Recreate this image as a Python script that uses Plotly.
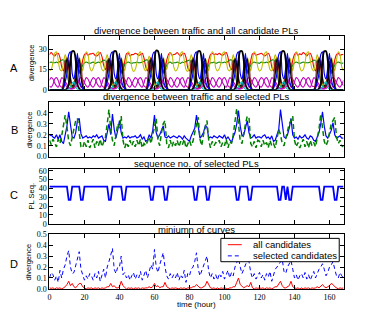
import plotly.graph_objects as go

# ---------------- data ----------------
hours = list(range(0, 169))
x_ticks = [0, 20, 40, 60, 80, 100, 120, 140, 160]

# Panel A: divergence between traffic and all candidate PLs (hourly)
a_red = [
 26,27.5,26,25,26.5,27,24,17,14,20,24,16,6,3,5,12,22,18,15,22,26,27,25.5,26.5,
 26.5,27,25.5,25,26,27.5,24.5,18,15,21,23,15,5,3,6,13,21,19,14,21,26.5,27,25,26,
 26,27,26.5,25.5,26,27,23.5,17,14,20,24,17,7,3,5,12,22,18,16,22,26,27.5,25.5,26,
 26.5,27.5,26,25,26.5,27,24,16.5,14,19,24,16,6,4,5,11,21,18,15,22,26,27,26,26.5,
 26,27,26,25.5,26.5,27.5,24,17.5,15,20,23,16,6,3,5,12,22,19,15,21.5,26.5,27,25.5,26,
 26.5,27,26,25,26,27,24.5,17,14,21,24,15,6,3,6,12,22,18,15,22,26,27.5,25.5,26.5,
 26,27.5,26.5,25,26.5,27,24,17,14,20,24,16,5,3,5,13,21,18,15,22,26,27,25.5,26,
 26]
a_green = [
 20,20.5,20,20,20.5,20,21,22,22,20,12,6,3,2,4,10,18,21,16,18,20,20.5,20,19.5,
 20,20.5,19.5,20,20.5,20,21,22,21.5,20,13,6,3,2,4,10,17,21,16,18.5,20,20.5,20,19.5,
 20,20,20.5,20,20,20.5,21,22,22,19,12,7,3,2,4,11,18,21,15,18,20,20.5,19.5,20,
 20,20.5,20,19.5,20.5,20,21,21.5,22,20,12,6,3,2,5,10,18,20,16,18,20,20,20.5,19.5,
 20,20.5,20,20,20.5,20,21,22,22,20,12,6,3,2,4,10,18,21,16,18,20,20.5,20,20,
 19.5,20.5,20,20,20.5,20,21,22,22,20.5,12,6,3,2,4,10,18,21,16,18,20,20.5,20,19.5,
 20,20.5,20,20,20,20.5,21,22,21.5,20,12,6,3,2,4,10,18,21,16,18,20,20.5,20,19.5,
 20]
a_yellow = [
 14,15,20,27,28,22,15,14,20,26,20,8,4,2,3,8,16,24,20,14,22,28,26,17,
 14,16,21,27,28,21,15,14,21,26,19,8,4,2,3,8,17,24,19,14,22,28,26,17,
 13.5,15,20,26.5,28,22,16,14,20,25,20,9,4,2,3,8,16,24,20,15,22,27.5,26,17,
 14,15,20,27,28,22,15,13.5,20,26,20,8,4,2,3,7,16,23,20,14,23,28,26,16,
 14,15.5,20,27,28,22,15,14,19,26,20,8,4,2,3,8,16,24,20,14,22,28,25.5,17,
 14,15,21,27,28,21,15,14,20,26,21,8,4,2,3,8,16,24,21,14,22,28,26,17,
 14,15,20,27,28,22,15.5,14,20,26,20,8,4,2,3,8,16,24,20,14,22,28,26,17,
 14]
a_magenta1 = [
 3,2,4,8,9,7,3,2,3,6,4,2,1,1,2,4,6,5,2,3,6,9,8,5,
 3,2,4,8,9,7,3,2,3,6,4,2,1,1,2,4,6,5,2,3,6,9,8,5,
 3,2,4.5,8,9,7,3,2,3,6,4,2,1,1,2,4,6,5,2,3,6,9,8,5,
 3,2,4,8,9,6.5,3,2,3,6,4,2,1,1,2,4,6,5,2,3,6,9,8,5,
 3,2,4,8,9,7,3,2,3,6,4,2,1,1,2,4,6,5,2,3,6.5,9,8,5,
 3,2,4,8,9,7,3,2,3,6,4,2,1,1,2,4,6,5,2,3,6,9,8,5,
 3,2,4,8,9,7,3,2.5,3,6,4,2,1,1,2,4,6,5,2,3,6,9,8,5,
 3]
a_magenta2 = [
 7,9,8,5,3,2,5,9,8,4,2,1,0.5,0.5,1,2,4,8,9,8,5,3,2,4,
 7,9,8,5,3,2,5,9,8,4,2,1,0.5,0.5,1,2,4,8,9,8,5,3,2,4,
 7,9,8,5,3,2,5,9,8,4,2,1,0.5,0.5,1,2,4,8,9,8,5,3,2,4,
 7,9,8,5,3,2,5,9,8,4,2,1,0.5,0.5,1,2,4,8,9,8,5,3,2,4,
 7,9,8,5,3,2,5,9,8,4,2,1,0.5,0.5,1,2,4,8,9,8,5,3,2,4,
 7,9,8,5,3,2,5,9,8,4,2,1,0.5,0.5,1,2,4,8,9,8,5,3,2,4,
 7,9,8,5,3,2,5,9,8,4,2,1,0.5,0.5,1,2,4,8,9,8,5,3,2,4,
 7]
a_black1 = [
 0,0,0,0,0,0,0,0,0,0,1,4,22,28.5,28.5,22,4,1,0,0,0,0,0,0,
 0,0,0,0,0,0,0,0,0,0,1,4,22,28.5,28.5,22,4,1,0,0,0,0,0,0,
 0,0,0,0,0,0,0,0,0,0,1,4,22,29,28.5,22,4,1,0,0,0,0,0,0,
 0,0,0,0,0,0,0,0,0,0,1,4,22,28.5,28.5,22,4,1,0,0,0,0,0,0,
 0,0,0,0,0,0,0,0,0,0,1,4,22,28.5,28.5,22,4,1,0,0,0,0,0,0,
 0,0,0,0,0,0,0,0,0,0,1,4,22,28.5,28.5,22,4,1,0,0,0,0,0,0,
 0,0,0,0,0,0,0,0,0,0,1,4,22,28.5,28.5,22,4,1,0,0,0,0,0,0,
 0]
a_black2 = [
 0,0,0,0,0,0,0,0,2,12,23,18,8,3,3,8,18,23,10,2,0,0,0,0,
 0,0,0,0,0,0,0,0,2,12,23,18,8,3,3,8,18,23,10,2,0,0,0,0,
 0,0,0,0,0,0,0,0,2,12,23,18,8,3,3,8,18,23,10,2,0,0,0,0,
 0,0,0,0,0,0,0,0,2,12,23,18,8,3,3,8,18,23,10,2,0,0,0,0,
 0,0,0,0,0,0,0,0,2,12,23,18,8,3,3,8,18,23,10,2,0,0,0,0,
 0,0,0,0,0,0,0,0,2,12,23,18,8,3,3,8,18,23,10,2,0,0,0,0,
 0,0,0,0,0,0,0,0,2,12,23,18,8,3,3,8,18,23,10,2,0,0,0,0,
 0]
a_darkred = [
 0,0,0,0,0,0,0,0,6,22,14,22,10,2,2,10,21,12,20,4,0,0,0,0,
 0,0,0,0,0,0,0,0,6,22,14,22,10,2,2,10,21,12,20,4,0,0,0,0,
 0,0,0,0,0,0,0,0,6,22,14,22,10,2,2,10,21,12,20,4,0,0,0,0,
 0,0,0,0,0,0,0,0,6,22,14,22,10,2,2,10,21,12,20,4,0,0,0,0,
 0,0,0,0,0,0,0,0,6,22,14,22,10,2,2,10,21,12,20,4,0,0,0,0,
 0,0,0,0,0,0,0,0,6,22,14,22,10,2,2,10,21,12,20,4,0,0,0,0,
 0,0,0,0,0,0,0,0,6,22,14,22,10,2,2,10,21,12,20,4,0,0,0,0,
 0]
a_blue = [
 0,0,0,0,0,0,0,0,1,6,12,26,28,12,8,16,27,8,3,1,0,0,0,0,
 0,0,0,0,0,0,0,0,1,6,12,26,28,12,8,16,27,8,3,1,0,0,0,0,
 0,0,0,0,0,0,0,0,1,6,12,26,28,12,8,16,27,8,3,1,0,0,0,0,
 0,0,0,0,0,0,0,0,1,6,12,26,28,12,8,16,27,8,3,1,0,0,0,0,
 0,0,0,0,0,0,0,0,1,6,12,26,28,12,8,16,27,8,3,1,0,0,0,0,
 0,0,0,0,0,0,0,0,1,6,12,26,28,12,8,16,27,8,3,1,0,0,0,0,
 0,0,0,0,0,0,0,0,1,6,12,26,28,12,8,16,27,8,3,1,0,0,0,0,
 0]
a_cyan = [
 0,0,0,0,0,0,0,0,0,0,0,0.5,2,5,6,2,0.5,0,0,0,0,0,0,0,
 0,0,0,0,0,0,0,0,0,0,0,0.5,2,5,6,2,0.5,0,0,0,0,0,0,0,
 0,0,0,0,0,0,0,0,0,0,0,0.5,2,5,6,2,0.5,0,0,0,0,0,0,0,
 0,0,0,0,0,0,0,0,0,0,0,0.5,2,5,6,2,0.5,0,0,0,0,0,0,0,
 0,0,0,0,0,0,0,0,0,0,0,0.5,2,5,6,2,0.5,0,0,0,0,0,0,0,
 0,0,0,0,0,0,0,0,0,0,0,0.5,2,5,6,2,0.5,0,0,0,0,0,0,0,
 0,0,0,0,0,0,0,0,0,0,0,0.5,2,5,6,2,0.5,0,0,0,0,0,0,0,
 0]

# Panel B: divergence between traffic and selected PLs
b_blue = [
 0.19,0.20,0.18,0.17,0.20,0.16,0.20,0.14,0.12,0.19,0.28,0.41,0.30,0.18,0.17,0.22,0.33,0.35,0.21,0.17,0.18,0.19,0.17,0.18,
 0.17,0.19,0.18,0.20,0.17,0.18,0.19,0.15,0.14,0.22,0.30,0.20,0.39,0.25,0.17,0.24,0.33,0.22,0.17,0.18,0.17,0.19,0.17,0.18,
 0.18,0.19,0.17,0.18,0.20,0.16,0.18,0.14,0.15,0.20,0.17,0.24,0.38,0.22,0.17,0.20,0.25,0.28,0.18,0.17,0.19,0.17,0.18,0.19,
 0.18,0.17,0.19,0.18,0.16,0.19,0.17,0.15,0.14,0.19,0.22,0.26,0.38,0.25,0.17,0.19,0.22,0.28,0.27,0.17,0.18,0.17,0.19,0.18,
 0.17,0.19,0.18,0.17,0.20,0.16,0.18,0.15,0.13,0.18,0.22,0.30,0.42,0.28,0.19,0.20,0.26,0.33,0.22,0.17,0.18,0.20,0.17,0.18,
 0.18,0.17,0.19,0.20,0.17,0.18,0.16,0.19,0.14,0.15,0.20,0.25,0.43,0.30,0.18,0.17,0.20,0.26,0.35,0.20,0.17,0.18,0.16,0.19,
 0.17,0.18,0.20,0.17,0.16,0.19,0.18,0.15,0.14,0.18,0.22,0.30,0.41,0.28,0.19,0.17,0.20,0.24,0.31,0.20,0.17,0.18,0.19,0.17,
 0.17]
b_green = [
 0.15,0.11,0.16,0.13,0.09,0.16,0.12,0.19,0.30,0.38,0.27,0.14,0.10,0.18,0.26,0.33,0.35,0.20,0.09,0.08,0.14,0.09,0.15,0.08,
 0.12,0.16,0.08,0.14,0.10,0.16,0.09,0.13,0.18,0.30,0.43,0.25,0.15,0.10,0.20,0.30,0.26,0.37,0.15,0.08,0.13,0.09,0.15,0.10,
 0.14,0.09,0.15,0.10,0.16,0.08,0.12,0.10,0.14,0.18,0.12,0.20,0.28,0.35,0.15,0.10,0.22,0.30,0.33,0.12,0.08,0.15,0.09,0.14,
 0.10,0.15,0.09,0.14,0.11,0.16,0.08,0.12,0.15,0.10,0.14,0.22,0.30,0.36,0.16,0.10,0.20,0.28,0.33,0.15,0.08,0.14,0.10,0.13,
 0.12,0.15,0.09,0.13,0.10,0.16,0.08,0.14,0.12,0.20,0.30,0.44,0.30,0.14,0.12,0.22,0.30,0.37,0.36,0.12,0.09,0.14,0.08,0.15,
 0.14,0.09,0.15,0.10,0.13,0.08,0.15,0.10,0.12,0.08,0.18,0.25,0.20,0.12,0.10,0.16,0.22,0.30,0.33,0.37,0.15,0.09,0.13,0.08,
 0.12,0.16,0.09,0.14,0.08,0.15,0.10,0.13,0.09,0.16,0.25,0.39,0.28,0.14,0.10,0.14,0.22,0.30,0.33,0.36,0.18,0.12,0.15,0.10,
 0.09]

# Panel C: sequence no. of selected PLs
c_seq = [
 42,42,42,42,42,42,42,42,42,42,42,27,27,42,42,42,42,42,27,27,42,42,42,42,
 42,42,42,42,42,42,42,42,42,42,27,27,42,42,42,42,42,42,27,27,42,42,42,42,
 42,42,42,42,42,42,42,42,42,42,27,27,42,42,42,42,42,42,27,27,42,42,42,42,
 42,42,42,42,42,42,42,42,42,42,42,27,27,42,42,42,42,42,27,27,42,42,42,42,
 42,42,42,42,42,42,42,42,42,42,42,27,27,42,42,42,42,42,27,27,42,42,42,42,
 42,42,42,42,42,42,42,42,42,42,42,27,27,42,42,27,42,27,27,42,42,42,42,42,
 42,42,42,42,42,42,42,42,42,42,42,27,27,42,42,42,42,42,42,27,27,42,42,42,
 42]

# Panel D: minimum of curves
d_all = [
 0.01,0.005,0.01,0.0,0.01,0.005,0.01,0.0,0.01,0.02,0.04,0.07,0.03,0.05,0.02,0.01,0.03,0.05,0.05,0.02,0.01,0.0,0.01,0.005,
 0.01,0.0,0.01,0.005,0.01,0.0,0.01,0.005,0.01,0.02,0.02,0.05,0.02,0.03,0.01,0.01,0.02,0.07,0.03,0.01,0.0,0.01,0.005,0.01,
 0.0,0.01,0.005,0.01,0.0,0.01,0.005,0.01,0.01,0.02,0.01,0.02,0.05,0.02,0.03,0.01,0.02,0.02,0.06,0.02,0.01,0.0,0.01,0.005,
 0.01,0.005,0.0,0.01,0.005,0.01,0.0,0.01,0.01,0.01,0.02,0.02,0.04,0.02,0.01,0.01,0.02,0.03,0.07,0.04,0.01,0.005,0.01,0.0,
 0.01,0.0,0.01,0.005,0.01,0.005,0.0,0.01,0.01,0.02,0.02,0.06,0.10,0.04,0.02,0.01,0.02,0.03,0.02,0.06,0.01,0.0,0.01,0.005,
 0.01,0.005,0.01,0.0,0.01,0.005,0.01,0.0,0.01,0.02,0.02,0.05,0.07,0.03,0.01,0.01,0.02,0.03,0.07,0.02,0.01,0.005,0.01,0.0,
 0.01,0.0,0.01,0.005,0.01,0.0,0.01,0.005,0.01,0.02,0.01,0.03,0.04,0.02,0.01,0.02,0.03,0.05,0.04,0.02,0.01,0.0,0.01,0.005,
 0.01]
d_selected = [
 0.10,0.15,0.13,0.08,0.12,0.06,0.17,0.10,0.18,0.22,0.30,0.35,0.20,0.14,0.15,0.22,0.30,0.34,0.18,0.12,0.08,0.12,0.09,0.14,
 0.12,0.08,0.14,0.10,0.16,0.07,0.12,0.18,0.10,0.20,0.25,0.30,0.37,0.18,0.14,0.20,0.20,0.30,0.13,0.15,0.10,0.13,0.08,0.12,
 0.15,0.09,0.13,0.10,0.16,0.08,0.12,0.17,0.10,0.15,0.22,0.18,0.36,0.20,0.15,0.22,0.28,0.33,0.20,0.12,0.09,0.14,0.10,0.13,
 0.10,0.15,0.08,0.13,0.10,0.17,0.06,0.14,0.12,0.18,0.20,0.25,0.33,0.18,0.12,0.17,0.22,0.26,0.30,0.16,0.10,0.14,0.09,0.13,
 0.08,0.14,0.11,0.16,0.09,0.13,0.17,0.10,0.15,0.12,0.20,0.24,0.28,0.20,0.14,0.18,0.22,0.26,0.25,0.15,0.10,0.14,0.09,0.12,
 0.15,0.10,0.13,0.08,0.14,0.11,0.16,0.07,0.12,0.18,0.20,0.22,0.24,0.27,0.16,0.14,0.20,0.23,0.26,0.18,0.10,0.13,0.08,0.12,
 0.14,0.10,0.15,0.09,0.13,0.08,0.12,0.16,0.10,0.14,0.18,0.20,0.23,0.18,0.12,0.15,0.20,0.22,0.25,0.18,0.12,0.10,0.15,0.12,
 0.10]
legend_names = ["all candidates", "selected candidates"]

# ---------------- figure ----------------
W, H = 382, 327
X0, X1 = 47.7 / W, 343.3 / W


def ydom(top_px, bot_px):
    return [1 - bot_px / H, 1 - top_px / H]


def px(x):
    return x / W


def py(y):
    return 1 - y / H


fig = go.Figure()

a_series = [
    (a_red, "#ff0000", 1.1), (a_green, "#008000", 1.1), (a_yellow, "#bfbf00", 1.1),
    (a_magenta1, "#bf00bf", 1.1), (a_magenta2, "#bf00bf", 1.1),
    (a_darkred, "#8b1a1a", 1.1), (a_black2, "#000000", 1.2),
    (a_blue, "#0000ff", 1.2), (a_cyan, "#00bfbf", 1.1), (a_black1, "#000000", 1.8),
]
for vals, col, lw in a_series:
    fig.add_trace(go.Scatter(x=hours, y=vals, mode="lines", xaxis="x", yaxis="y",
                             line=dict(color=col, width=lw, shape="spline", smoothing=0.8),
                             showlegend=False))

fig.add_trace(go.Scatter(x=hours, y=b_blue, mode="lines", xaxis="x2", yaxis="y2",
                         line=dict(color="#0000ff", width=1.2), showlegend=False))
fig.add_trace(go.Scatter(x=hours, y=b_green, mode="lines", xaxis="x2", yaxis="y2",
                         line=dict(color="#008000", width=1.5, dash="5px,3px"), showlegend=False))

fig.add_trace(go.Scatter(x=hours, y=c_seq, mode="lines", xaxis="x3", yaxis="y3",
                         line=dict(color="#0000ff", width=1.8), showlegend=False))

fig.add_trace(go.Scatter(x=hours, y=d_all, mode="lines", xaxis="x4", yaxis="y4",
                         line=dict(color="#ff0000", width=1.0), name=legend_names[0],
                         showlegend=False))
fig.add_trace(go.Scatter(x=hours, y=d_selected, mode="lines", xaxis="x4", yaxis="y4",
                         line=dict(color="#0000ff", width=1.0, dash="4px,3px"),
                         name=legend_names[1], showlegend=False))

tickfont = dict(family="Liberation Serif", size=8, color="black")
common_x = dict(range=[0, 168], tickvals=x_ticks, ticks="inside", ticklen=4,
                tickcolor="black", showline=True, linecolor="black", linewidth=1,
                mirror="ticks", showgrid=False, zeroline=False, domain=[X0, X1],
                tickfont=tickfont)
common_y = dict(ticks="inside", ticklen=4, tickcolor="black", showline=True,
                linecolor="black", linewidth=1, mirror="ticks", showgrid=False,
                zeroline=False, tickfont=tickfont)

fig.update_layout(
    width=W, height=H, margin=dict(l=0, r=0, t=0, b=0),
    paper_bgcolor="white", plot_bgcolor="white",
    font=dict(family="Liberation Sans", color="black"),
    showlegend=False,
    xaxis=dict(common_x, anchor="y", showticklabels=False),
    xaxis2=dict(common_x, anchor="y2", showticklabels=False),
    xaxis3=dict(common_x, anchor="y3", showticklabels=False),
    xaxis4=dict(common_x, anchor="y4", showticklabels=True),
    yaxis=dict(common_y, anchor="x", domain=ydom(32.5, 88.3), range=[0, 40],
               tickvals=[0, 15, 30]),
    yaxis2=dict(common_y, anchor="x2", domain=ydom(100.7, 157), range=[0, 0.5],
                tickvals=[0, 0.1, 0.2, 0.3, 0.4], tickformat=".1f"),
    yaxis3=dict(common_y, anchor="x3", domain=ydom(169.7, 226), range=[0, 62],
                tickvals=[0, 10, 20, 30, 40, 50, 60]),
    yaxis4=dict(common_y, anchor="x4", domain=ydom(236.7, 293), range=[0, 0.5],
                tickvals=[0, 0.1, 0.2, 0.3, 0.4, 0.5], tickformat=".1f"),
)

# legend box for panel D (drawn as layout decoration)
fig.add_shape(type="rect", xref="paper", yref="paper", x0=px(220), x1=px(339),
              y0=py(265), y1=py(241), line=dict(color="black", width=1),
              fillcolor="white", layer="above")
fig.add_shape(type="line", xref="paper", yref="paper", x0=px(227), x1=px(241),
              y0=py(247.5), y1=py(247.5), line=dict(color="#ff0000", width=1), layer="above")
fig.add_shape(type="line", xref="paper", yref="paper", x0=px(227), x1=px(241),
              y0=py(259), y1=py(259), line=dict(color="#0000ff", width=1, dash="4px,3px"),
              layer="above")
for name, yy in zip(legend_names, [247.5, 259]):
    fig.add_annotation(text=name, x=px(250), y=py(yy), xref="paper", yref="paper",
                       showarrow=False, xanchor="left", yanchor="middle",
                       font=dict(family="Liberation Sans", size=9.5))

cx = (X0 + X1) / 2
titles = [("divergence between traffic and all candidate PLs", 27),
          ("divergence between traffic and selected PLs", 95),
          ("sequence no. of selected PLs", 164),
          ("miniumn of curves", 232)]
for txt, yy in titles:
    fig.add_annotation(text=txt, x=cx, y=py(yy), xref="paper", yref="paper",
                       showarrow=False, xanchor="center", yanchor="middle",
                       font=dict(family="Liberation Sans", size=9.5))

letters = [("A", 66), ("B", 130), ("C", 196), ("D", 267)]
for txt, yy in letters:
    fig.add_annotation(text=txt, x=px(12.5), y=py(yy), xref="paper", yref="paper",
                       showarrow=False, xanchor="center", yanchor="middle",
                       font=dict(family="Liberation Sans", size=11))

ylabels = [("divergence", 30, 60), ("divergence", 28, 129), ("PL Seq.", 30, 198),
           ("divergence", 27, 265)]
for txt, xx, yy in ylabels:
    fig.add_annotation(text=txt, x=px(xx), y=py(yy), xref="paper", yref="paper",
                       showarrow=False, xanchor="center", yanchor="middle", textangle=-90,
                       font=dict(family="Liberation Sans", size=7.5))

fig.add_annotation(text="time (hour)", x=cx, y=py(309), xref="paper", yref="paper",
                   showarrow=False, xanchor="center", yanchor="middle",
                   font=dict(family="Liberation Sans", size=8))

fig.write_html("out.html", config={"displayModeBar": False},
               post_script="document.body.style.margin='0px';")
